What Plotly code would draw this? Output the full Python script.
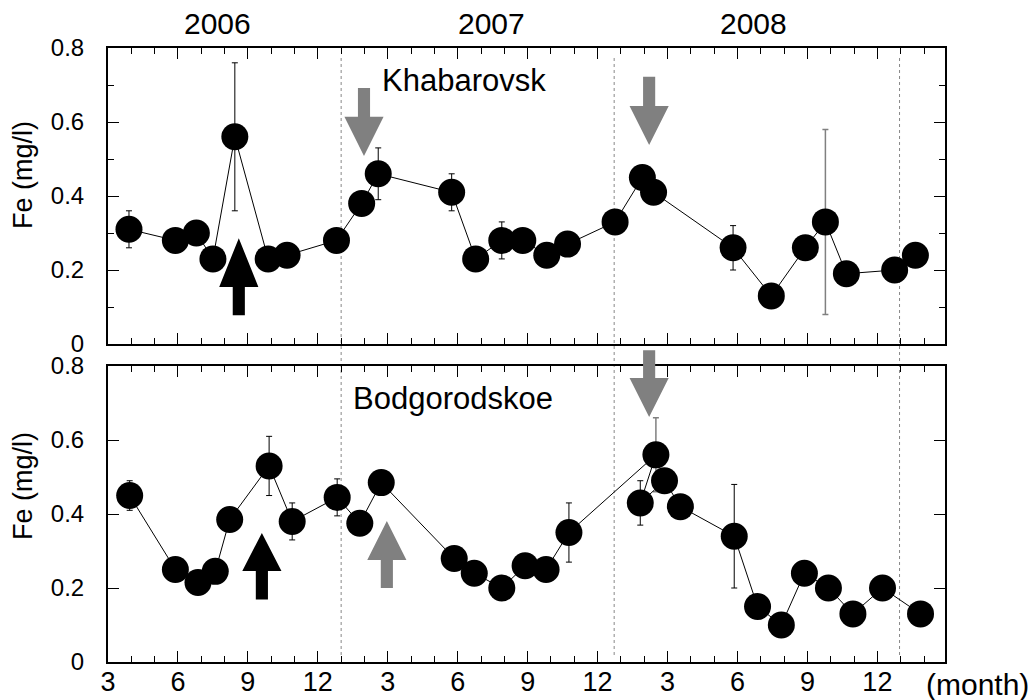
import plotly.graph_objects as go

# ---------------- data (time in months, 2006 month m -> m, Jan 2007 -> 13, ...) -------------
tick_months = [3, 6, 9, 12, 15, 18, 21, 24, 27, 30, 33, 36]
tick_labels = ["3", "6", "9", "12", "3", "6", "9", "12", "3", "6", "9", "12"]
year_labels = ["2006", "2007", "2008"]
year_pos = [7.71, 19.43, 30.68]
year_bounds = [13.0, 24.71, 36.95]

# Khabarovsk (upper panel)
kh_t = [3.9, 5.89, 6.79, 7.5, 8.44, 9.87, 10.68, 12.8, 13.88, 14.59, 17.74, 18.77, 19.89,
        20.79, 21.82, 22.71, 24.75, 25.92, 26.4, 29.81, 31.45, 32.91, 33.77, 34.67, 36.74, 37.63]
kh_fe = [0.31, 0.28, 0.30, 0.23, 0.56, 0.23, 0.24, 0.28, 0.38, 0.46, 0.41, 0.23, 0.28,
         0.28, 0.24, 0.27, 0.33, 0.45, 0.41, 0.26, 0.13, 0.26, 0.33, 0.19, 0.20, 0.24]
kh_err = [0.05, 0, 0, 0, 0.20, 0, 0, 0, 0, 0.07, 0.05, 0, 0.05,
          0, 0, 0, 0, 0, 0, 0.06, 0, 0, 0, 0, 0, 0]
kh_gray_t = [33.77]
kh_gray_fe = [0.33]
kh_gray_err = [0.25]

# Bodgorodskoe (lower panel)
bo_t = [3.93, 5.89, 6.86, 7.6, 8.22, 9.91, 10.9, 12.83, 13.8, 14.72, 17.85, 18.71, 19.89,
        20.89, 21.79, 22.77, 26.5, 25.83, 26.87, 27.55, 29.86, 30.86, 31.88, 32.87, 33.9,
        34.95, 36.22, 37.85]
bo_fe = [0.45, 0.25, 0.215, 0.245, 0.385, 0.53, 0.38, 0.445, 0.375, 0.485, 0.28, 0.24, 0.20,
         0.26, 0.25, 0.35, 0.56, 0.43, 0.49, 0.42, 0.34, 0.15, 0.10, 0.24, 0.20,
         0.13, 0.20, 0.13]
bo_err = [0.04, 0, 0, 0, 0, 0.08, 0.05, 0.05, 0, 0, 0, 0, 0.02,
          0, 0.02, 0.08, 0, 0.06, 0, 0.02, 0.14, 0, 0, 0, 0,
          0, 0, 0]
bo_gray_t = [26.5]
bo_gray_fe = [0.56]
bo_gray_err = [0.10]

# arrows: (panel, centre month, tail value, head-base value, tip value, colour)
arrows = [
    ("top", 8.61, 0.078, 0.154, 0.286, "black"),
    ("top", 13.98, 0.692, 0.614, 0.508, "#808080"),
    ("top", 26.21, 0.722, 0.643, 0.538, "#808080"),
    ("bot", 9.60, 0.169, 0.246, 0.349, "black"),
    ("bot", 14.96, 0.200, 0.276, 0.381, "#808080"),
    ("bot", 26.21, 0.843, 0.768, 0.662, "#808080"),
]

# ---------------- layout geometry -------------
W, H = 1033, 700
ML, MR, MT, MB = 108, 88, 48, 38
XR = [3, 38.9]
YR = [0, 0.8]
TOP_DOM = [0.5179, 1.0]
BOT_DOM = [0.0, 0.482]
FONT = "Liberation Sans, Arial, Helvetica, sans-serif"


def px_x(m):
    return (m - XR[0]) / (XR[1] - XR[0])


def px_y(v, panel):
    d = TOP_DOM if panel == "top" else BOT_DOM
    return d[0] + (v - YR[0]) / (YR[1] - YR[0]) * (d[1] - d[0])


fig = go.Figure()


def add_panel(t, fe, err, gt, gfe, gerr, xa, ya):
    fig.add_trace(go.Scatter(
        x=gt, y=gfe, mode="markers", xaxis=xa, yaxis=ya,
        marker=dict(size=1, color="rgba(0,0,0,0)"),
        error_y=dict(type="data", array=gerr, color="#808080", thickness=1.5, width=3),
        showlegend=False, hoverinfo="skip"))
    fig.add_trace(go.Scatter(
        x=t, y=fe, mode="lines+markers", xaxis=xa, yaxis=ya,
        line=dict(color="black", width=1),
        marker=dict(size=27, color="black"),
        error_y=dict(type="data", array=err, color="black", thickness=1, width=3),
        showlegend=False))


add_panel(kh_t, kh_fe, kh_err, kh_gray_t, kh_gray_fe, kh_gray_err, "x", "y")
add_panel(bo_t, bo_fe, bo_err, bo_gray_t, bo_gray_fe, bo_gray_err, "x2", "y2")

shapes = []
# dotted year boundaries spanning both panels
for b in year_bounds:
    shapes.append(dict(type="line", xref="paper", yref="paper",
                       x0=px_x(b), x1=px_x(b), y0=0.0114, y1=0.985,
                       line=dict(color="#888888", width=1, dash="dot"), layer="below"))

# block arrows
SHAFT_HW = 0.26
HEAD_HW = 0.84
for panel, xc, yt, yb, ytip, col in arrows:
    xs = [xc - SHAFT_HW, xc + SHAFT_HW, xc + SHAFT_HW, xc + HEAD_HW, xc, xc - HEAD_HW, xc - SHAFT_HW]
    ys = [yt, yt, yb, yb, ytip, yb, yb]
    pts = [(px_x(a), px_y(b, panel)) for a, b in zip(xs, ys)]
    path = "M " + " L ".join(f"{a:.5f},{b:.5f}" for a, b in pts) + " Z"
    shapes.append(dict(type="path", xref="paper", yref="paper", path=path,
                       fillcolor=col, line=dict(width=0), layer="above"))

annotations = []
for lab, pos in zip(year_labels, year_pos):
    annotations.append(dict(text=lab, x=pos, y=(662 - 23.7) / 614, xref="x", yref="paper",
                            showarrow=False, xanchor="center", yanchor="middle",
                            font=dict(size=30, color="black", family=FONT)))
annotations.append(dict(text="Khabarovsk", x=18.27, y=0.711, xref="x", yref="y",
                        showarrow=False, xanchor="center", yanchor="middle",
                        font=dict(size=31, color="black", family=FONT)))
annotations.append(dict(text="Bodgorodskoe", x=17.8, y=0.711, xref="x2", yref="y2",
                        showarrow=False, xanchor="center", yanchor="middle",
                        font=dict(size=31, color="black", family=FONT)))
annotations.append(dict(text="(month)", x=(977 - ML) / (W - ML - MR), y=(662 - 684) / 614,
                        xref="paper", yref="paper", showarrow=False,
                        xanchor="center", yanchor="middle",
                        font=dict(size=30, color="black", family=FONT)))
for yy in [(662 - 175) / 614, (662 - 486) / 614]:
    annotations.append(dict(text="Fe (mg/l)", x=(23 - ML) / (W - ML - MR), y=yy,
                            xref="paper", yref="paper", showarrow=False, textangle=-90,
                            xanchor="center", yanchor="middle",
                            font=dict(size=27, color="black", family=FONT)))

xcommon = dict(range=XR, showgrid=False, zeroline=False, showline=True, linewidth=2,
               linecolor="black", mirror="ticks", ticks="inside", ticklen=11, tickwidth=1.3,
               tickcolor="black", tickvals=tick_months, ticktext=tick_labels, automargin=False,
               minor=dict(dtick=1, tick0=3, ticks="inside", ticklen=6, tickwidth=1.3,
                          tickcolor="black", showgrid=False))
ycommon = dict(range=YR, showgrid=False, zeroline=False, showline=True, linewidth=2,
               linecolor="black", mirror="ticks", ticks="inside", ticklen=11, tickwidth=1.3,
               tickcolor="black", dtick=0.2, tick0=0, automargin=False,
               tickfont=dict(size=24, color="black", family=FONT), ticklabelstandoff=17)

fig.update_layout(
    width=W, height=H,
    margin=dict(l=ML, r=MR, t=MT, b=MB, autoexpand=False),
    paper_bgcolor="white", plot_bgcolor="white",
    font=dict(family=FONT, color="black"),
    xaxis=dict(**xcommon, anchor="y", domain=[0, 1], showticklabels=False),
    yaxis=dict(**ycommon, anchor="x", domain=TOP_DOM,
               minor=dict(dtick=0.1, ticks="inside", ticklen=6, tickwidth=1.3,
                          tickcolor="black", showgrid=False)),
    xaxis2=dict(**xcommon, anchor="y2", domain=[0, 1],
                tickfont=dict(size=27, color="black", family=FONT), ticklabelstandoff=-5),
    yaxis2=dict(**ycommon, anchor="x2", domain=BOT_DOM),
    shapes=shapes,
    annotations=annotations,
)

fig.write_html("out.html", config={"displayModeBar": False},
               post_script="document.body.style.margin='0';document.body.style.overflow='hidden';")
